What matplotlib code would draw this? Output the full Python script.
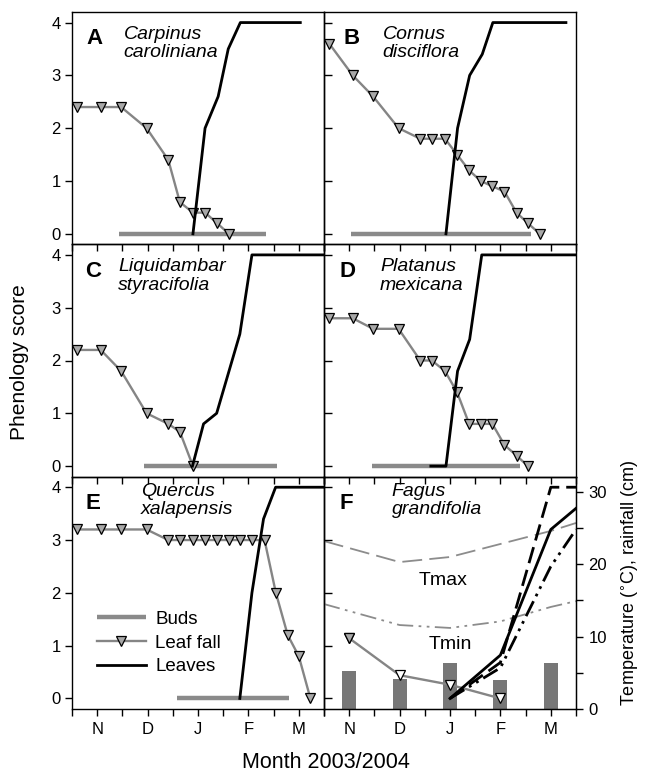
import matplotlib
matplotlib.use("Agg")
import matplotlib.pyplot as plt
from matplotlib.lines import Line2D

plt.rcParams['font.family'] = ['Liberation Sans', 'DejaVu Sans']

# ---------------- data (x in months since 1 Nov 2003) ----------------
month_labels = ['N', 'D', 'J', 'F', 'M']
month_pos = [0.5, 1.5, 2.5, 3.5, 4.5]

dates = [0.105, 0.57, 0.975, 1.48, 1.91, 2.14, 2.40, 2.64, 2.88, 3.11,
         3.34, 3.58, 3.82, 4.045, 4.28, 4.50, 4.73]

# A Carpinus caroliniana
a_fall_y = [2.4, 2.4, 2.4, 2.0, 1.4, 0.6, 0.4, 0.4, 0.2, 0.0]
a_leaf_x = [2.40, 2.64, 2.90, 3.10, 3.34, 4.53]
a_leaf_y = [0, 2.0, 2.6, 3.5, 4, 4]
a_buds = [0.94, 3.84]

# B Cornus disciflora
b_fall_y = [3.6, 3.0, 2.6, 2.0, 1.8, 1.8, 1.8, 1.5, 1.2, 1.0, 0.9, 0.8, 0.4, 0.2, 0.0]
b_leaf_x = [2.42, 2.65, 2.89, 3.14, 3.35, 4.80]
b_leaf_y = [0, 2.0, 3.0, 3.4, 4, 4]
b_buds = [0.54, 4.10]

# C Liquidambar styracifolia
c_fall_y = [2.2, 2.2, 1.8, 1.0, 0.8, 0.65, 0.0]
c_leaf_x = [2.39, 2.61, 2.87, 3.33, 3.57, 5.0]
c_leaf_y = [0, 0.8, 1.0, 2.5, 4, 4]
c_buds = [1.43, 4.07]

# D Platanus mexicana
d_fall_y = [2.8, 2.8, 2.6, 2.6, 2.0, 2.0, 1.8, 1.4, 0.8, 0.8, 0.8, 0.4, 0.2, 0.0]
d_leaf_x = [2.12, 2.42, 2.65, 2.89, 3.13, 5.0]
d_leaf_y = [0, 0, 1.8, 2.4, 4, 4]
d_buds = [0.95, 3.88]

# E Quercus xalapensis
e_fall_y = [3.2, 3.2, 3.2, 3.2, 3.0, 3.0, 3.0, 3.0, 3.0, 3.0, 3.0, 3.0, 3.0,
            2.0, 1.2, 0.8, 0.0]
e_leaf_x = [3.33, 3.57, 3.80, 4.04, 5.0]
e_leaf_y = [0, 2.0, 3.4, 4, 4]
e_buds = [2.09, 4.30]

# F Fagus grandifolia + climate
f_fall_y = [1.14, 0.44, 0.26, 0.0]
rainfall = [5.3, 4.2, 6.3, 4.0, 6.3]
tmax_x = [0, 1.5, 2.5, 4.5, 5.0]
tmax_y = [23.2, 20.3, 21.0, 24.6, 25.7]
tmin_x = [0, 1.5, 2.5, 3.5, 4.5, 5.0]
tmin_y = [14.5, 11.6, 11.2, 12.1, 14.1, 14.9]
f_leaf_x = [2.5, 3.5, 4.5, 5.0]
f_leaf_solid = [0, 0.82, 3.2, 3.6]
f_leaf_dashed = [0, 0.68, 4.0, 4.0]
f_leaf_dashdot = [0, 0.58, 2.5, 3.2]

panels = [
    ('A', 'Carpinus\ncaroliniana', a_fall_y, a_leaf_x, a_leaf_y, a_buds),
    ('B', 'Cornus\ndisciflora', b_fall_y, b_leaf_x, b_leaf_y, b_buds),
    ('C', 'Liquidambar\nstyracifolia', c_fall_y, c_leaf_x, c_leaf_y, c_buds),
    ('D', 'Platanus\nmexicana', d_fall_y, d_leaf_x, d_leaf_y, d_buds),
    ('E', 'Quercus\nxalapensis', e_fall_y, e_leaf_x, e_leaf_y, e_buds),
]

# ---------------- styles ----------------
GRAY_LINE = '#858585'
GRAY_MARK = '#a8a8a8'
BUD_COL = '#8a8a8a'
BAR_COL = '#777777'
TICK_FS = 12
SP_FS = 14
LET_FS = 16

fig = plt.figure(figsize=(6.45, 7.76), dpi=100)
W, H = 645.0, 776.0
left_px, mid_px, right_px = 72, 324, 576
top_px, bot_px = 12, 709
row_h = (bot_px - top_px) / 3.0

axes = {}
for r in range(3):
    for c in range(2):
        x0 = [left_px, mid_px][c]
        y_top = top_px + r * row_h
        ax = fig.add_axes([x0 / W, 1 - (y_top + row_h) / H,
                           (mid_px - left_px) / W, row_h / H])
        ax.patch.set_visible(False)
        axes[(r, c)] = ax

letter_x = {'A': 0.056, 'B': 0.077, 'C': 0.052, 'D': 0.061, 'E': 0.052, 'F': 0.061}
name_x = {'A': 0.205, 'B': 0.232, 'C': 0.184, 'D': 0.222, 'E': 0.273, 'F': 0.269}
name_top = {'A': 0.94, 'B': 0.94, 'C': 0.94, 'D': 0.94, 'E': 0.972, 'F': 0.972}
LETTER_TOP = 0.93


def style_axis(ax, r, c):
    ax.set_xlim(0, 5)
    ax.set_ylim(-0.2, 4.2)
    ticks = [i * 0.5 for i in range(11)]
    ax.set_xticks(ticks)
    if r == 2:
        labels = []
        for t in ticks:
            labels.append(month_labels[month_pos.index(t)] if t in month_pos else '')
        ax.set_xticklabels(labels)
    else:
        ax.set_xticklabels([''] * 11)
    ax.tick_params(axis='x', direction='out', length=5, width=1,
                   top=False, bottom=True, labelsize=TICK_FS, pad=4)
    ax.set_yticks([0, 1, 2, 3, 4])
    if c == 0:
        ax.tick_params(axis='y', direction='out', length=5, width=1,
                       labelsize=TICK_FS, pad=3, right=False)
    else:
        ax.tick_params(axis='y', direction='in', length=6, width=1,
                       labelleft=False, right=False)
    for s in ax.spines.values():
        s.set_linewidth(1.0)


def add_titles(ax, let, name):
    ax.text(letter_x[let], LETTER_TOP, let, transform=ax.transAxes, fontsize=LET_FS,
            fontweight='bold', va='top', ha='left')
    ax.text(name_x[let], name_top[let], name, transform=ax.transAxes, fontsize=SP_FS,
            style='italic', va='top', ha='left', linespacing=1.1)


for idx, (let, name, fall_y, leaf_x, leaf_y, buds) in enumerate(panels):
    r, c = divmod(idx, 2)
    ax = axes[(r, c)]
    style_axis(ax, r, c)
    ax.plot(buds, [0, 0], color=BUD_COL, lw=3.2, solid_capstyle='butt', zorder=2)
    ax.plot(dates[:len(fall_y)], fall_y, color=GRAY_LINE, lw=1.7,
            marker='v', ms=7.5, mfc=GRAY_MARK, mec='black', mew=0.9, zorder=3)
    ax.plot(leaf_x, leaf_y, color='black', lw=2.0, zorder=4)
    add_titles(ax, let, name)

# legend in E
axE = axes[(2, 0)]
handles = [Line2D([], [], color=BUD_COL, lw=3.2, solid_capstyle='butt'),
           Line2D([], [], color=GRAY_LINE, lw=1.7, marker='v', ms=7.5,
                  mfc=GRAY_MARK, mec='black', mew=0.9),
           Line2D([], [], color='black', lw=2.0)]
axE.legend(handles, ['Buds', 'Leaf fall', 'Leaves'], loc='center left',
           bbox_to_anchor=(0.099, 0.284), frameon=False, fontsize=13.5,
           handlelength=2.6, handletextpad=0.5, labelspacing=0.36,
           borderpad=0, borderaxespad=0)

# panel F
axF = axes[(2, 1)]
style_axis(axF, 2, 1)
tw = axF.twinx()
tw.set_ylim(0, 32.1)
tw.set_yticks([0, 10, 20, 30])
tw.set_yticks([5, 15, 25], minor=True)
tw.tick_params(axis='y', which='both', direction='out', length=5, width=1,
               labelsize=TICK_FS, pad=4)
tw.bar(month_pos, rainfall, width=0.28, color=BAR_COL, zorder=1)
tw.plot(tmax_x, tmax_y, color='#8c8c8c', lw=1.3, dashes=(11, 4))
tw.plot(tmin_x, tmin_y, color='#8c8c8c', lw=1.3, dashes=(9, 3, 1.5, 3, 1.5, 3))
tw.text(0.472, 0.555, 'Tmax', transform=axF.transAxes, fontsize=SP_FS,
        ha='center', va='center')
tw.text(0.50, 0.276, 'Tmin', transform=axF.transAxes, fontsize=SP_FS,
        ha='center', va='center')
axF.set_zorder(tw.get_zorder() + 1)
axF.patch.set_visible(False)
axF.plot(month_pos[:4], f_fall_y, color=GRAY_LINE, lw=1.7, marker='v', ms=7.5,
         mec='black', mew=0.9, mfc='white', zorder=3)
axF.plot(month_pos[:1], f_fall_y[:1], ls='none', marker='v', ms=7.5,
         mec='black', mew=0.9, mfc=GRAY_MARK, zorder=3)
axF.plot(f_leaf_x, f_leaf_solid, color='black', lw=2.0, zorder=4)
axF.plot(f_leaf_x, f_leaf_dashed, color='black', lw=2.0, dashes=(6, 2.5), zorder=4)
axF.plot(f_leaf_x, f_leaf_dashdot, color='black', lw=2.0,
         dashes=(6, 2, 1, 2, 1, 2), zorder=4)
add_titles(axF, 'F', 'Fagus\ngrandifolia')

fig.text(0.031, 1 - 362 / H, 'Phenology score', rotation=90, fontsize=15,
         ha='center', va='center')
fig.text(326 / W, 1 - 762 / H, 'Month 2003/2004', fontsize=15.5,
         ha='center', va='center')
fig.text(630 / W, 1 - 583 / H, 'Temperature ($^{\\circ}$C), rainfall (cm)',
         rotation=90, fontsize=13, ha='center', va='center')

fig.savefig('out.png', dpi=100)
